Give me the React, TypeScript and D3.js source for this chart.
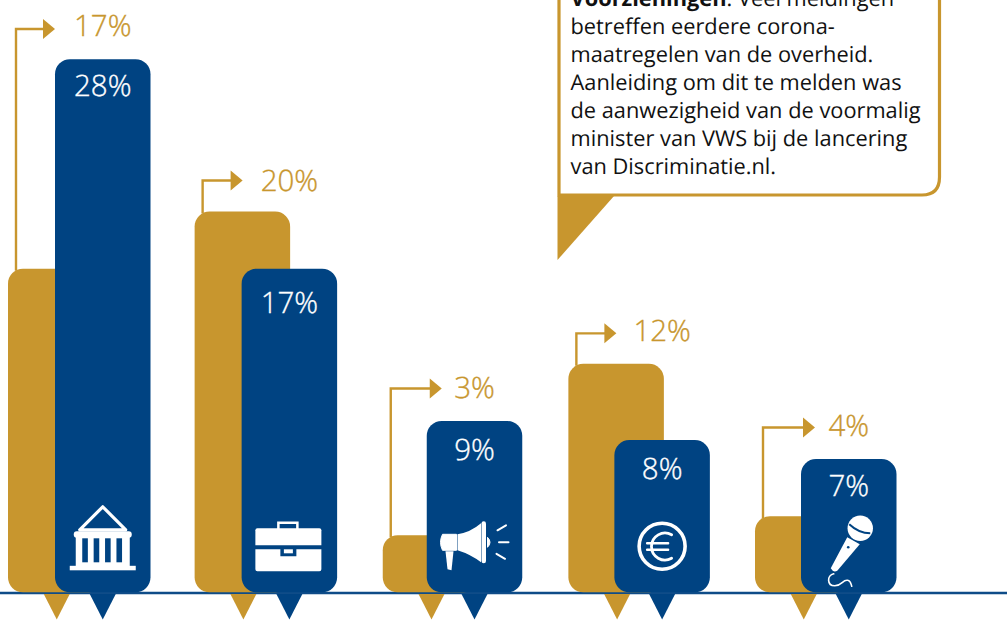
import React, { useEffect, useRef } from 'react';
import * as d3 from 'd3';

const categories = ['overheid', 'arbeid', 'media', 'financien', 'cultuur'];
const goldValues = [17, 20, 3, 12, 4];
const blueValues = [28, 17, 9, 8, 7];
const noteLines = [
  'betreffen eerdere corona-',
  'maatregelen van de overheid.',
  'Aanleiding om dit te melden was',
  'de aanwezigheid van de voormalig',
  'minister van VWS bij de lancering',
  'van Discriminatie.nl.',
];

const GOLD = '#c8962e';
const BLUE = '#004382';
const FONT = '"Open Sans", sans-serif';

// icons are drawn around (0,0) = bar centre on the baseline
function drawIcon(g, name) {
  const white = (sel) => sel.attr('fill', '#fff');
  const line = (sel, w) =>
    sel
      .attr('fill', 'none')
      .attr('stroke', '#fff')
      .attr('stroke-width', w)
      .attr('stroke-linecap', 'round');

  if (name === 'overheid') {
    g.append('path')
      .attr('d', 'M0,-85.5 L-23,-62.5 L23,-62.5 Z')
      .attr('fill', 'none')
      .attr('stroke', '#fff')
      .attr('stroke-width', 3.2)
      .attr('stroke-linejoin', 'round');
    white(g.append('rect')).attr('x', -29).attr('y', -61).attr('width', 58).attr('height', 6.5).attr('rx', 3);
    white(g.append('rect')).attr('x', -27).attr('y', -56).attr('width', 54).attr('height', 30);
    d3.range(4).forEach((i) => {
      g.append('rect')
        .attr('x', -20.5 + i * 11.4)
        .attr('y', -54)
        .attr('width', 5.6)
        .attr('height', 24)
        .attr('fill', BLUE);
    });
    white(g.append('rect')).attr('x', -33).attr('y', -26.5).attr('width', 66).attr('height', 4.5);
  }

  if (name === 'arbeid') {
    g.append('path')
      .attr('d', 'M-11,-62 V-69.5 H8 V-62')
      .attr('fill', 'none')
      .attr('stroke', '#fff')
      .attr('stroke-width', 2.5);
    white(g.append('path')).attr(
      'd',
      'M-32,-64 Q-34,-64 -34,-62 V-47 H32 V-62 Q32,-64 30,-64 Z'
    );
    white(g.append('path')).attr(
      'd',
      'M-34,-43 H-9 V-36 H7 V-43 H32 V-23 Q32,-21 30,-21 H-32 Q-34,-21 -34,-23 Z'
    );
    white(g.append('rect')).attr('x', -5.5).attr('y', -43).attr('width', 9).attr('height', 4);
  }

  if (name === 'media') {
    white(g.append('path')).attr('d', 'M-18,-58 H-32 Q-36,-50 -32,-42 H-18 Z').attr('stroke', '#fff').attr('stroke-linejoin', 'round');
    white(g.append('path')).attr('d', 'M-17,-58 Q-4,-60 6.5,-69 V-30 Q-4,-38 -17,-42 Z');
    white(g.append('rect')).attr('x', 7).attr('y', -71).attr('width', 4.5).attr('height', 42).attr('rx', 2.2);
    white(g.append('path')).attr('d', 'M13,-55 Q18,-50 13,-45 Z').attr('stroke', '#fff');
    white(g.append('path')).attr('d', 'M-29,-41 H-21 L-23,-22 L-27,-23 Z');
    [
      [23, -62, 31.5, -67],
      [24.5, -50, 34, -50],
      [22, -38.5, 30.5, -33.5],
    ].forEach(([x1, y1, x2, y2]) => {
      line(g.append('line'), 2).attr('x1', x1).attr('y1', y1).attr('x2', x2).attr('y2', y2);
    });
  }

  if (name === 'financien') {
    line(g.append('circle'), 3.6).attr('cy', -46).attr('r', 23);
    line(g.append('path'), 2.8).attr('d', 'M9.5,-57.5 A13.5,13.5 0 1 0 9.5,-34');
    line(g.append('path'), 2.4).attr('d', 'M-15,-49 H6 M-15,-42.5 H6');
  }

  if (name === 'cultuur') {
    white(g.append('circle')).attr('cx', 11.5).attr('cy', -64).attr('r', 12.7);
    g.append('path')
      .attr('d', 'M0.5,-68 Q10,-59 21.5,-59')
      .attr('fill', 'none')
      .attr('stroke', BLUE)
      .attr('stroke-width', 2);
    white(g.append('path')).attr('d', 'M-1.5,-55 L11,-48 L-11.5,-21.5 Q-14,-20 -16,-21.5 L-18,-24 Z');
    g.append('circle').attr('cx', -0.5).attr('cy', -45).attr('r', 1.3).attr('fill', BLUE);
    line(g.append('path'), 1.6).attr(
      'd',
      'M-15,-18.5 C-22,-17 -22,-6.5 -14,-6.5 C-7,-6.5 -6,-13 -1,-12 C2,-11.5 2,-9 3,-6'
    );
  }
}

function App() {
  const ref = useRef();

  useEffect(() => {
    const width = 1007;
    const barWidth = 95.5;
    const radius = 15;
    const baseline = 592.3;

    const svg = d3.select(ref.current);
    svg.selectAll('*').remove();

    const x = d3.scalePoint().domain(categories).range([31.5, 778]);
    const y = d3.scaleLinear().domain([0, 28]).range([baseline, 59.2]);

    // how far gold and blue sit apart, leader rise and length, where the labels sit
    const barGap = [47, 47, 44, 46, 46];
    const arrowRise = [30.2, 31, 32.5, 30.5, 31.5];
    const arrowLength = [39, 40, 51, 40, 52];
    const goldLabelDrop = [6.5, 10.5, 9.5, 7.5, 8.5];
    const blueLabelDrop = [37, 44, 39, 39, 37];

    const goldX = (i) => x(categories[i]) - barGap[i] / 2;
    const blueX = (i) => x(categories[i]) + barGap[i] / 2;

    // callout top right, runs off the top of the page
    svg
      .append('path')
      .attr('d', 'M557.5,196 H614 L557.5,260 Z')
      .attr('fill', GOLD);
    svg
      .append('path')
      .attr('d', 'M559,-40 V195 H922 Q939.5,195 939.5,177 V-40 Z')
      .attr('fill', '#fff')
      .attr('stroke', GOLD)
      .attr('stroke-width', 3.2);

    const note = svg
      .append('g')
      .attr('font-family', FONT)
      .attr('font-size', 21.8)
      .attr('text-rendering', 'geometricPrecision')
      .attr('fill', '#111');
    const first = note.append('text').attr('x', 570.5).attr('y', 6);
    first.append('tspan').attr('font-weight', 700).text('Voorzieningen');
    first.append('tspan').text(': Veel meldingen');
    note
      .selectAll('text.line')
      .data(noteLines)
      .enter()
      .append('text')
      .attr('class', 'line')
      .attr('x', 570.5)
      .attr('y', (d, i) => 34 + i * 28)
      .text((d) => d);

    // baseline
    svg
      .append('line')
      .attr('x1', 0)
      .attr('x2', width)
      .attr('y1', 593)
      .attr('y2', 593)
      .attr('stroke', '#0f4c88')
      .attr('stroke-width', 2.6);

    const tip = (cx) => `M${cx - 13},594 H${cx + 13} L${cx},619.5 Z`;

    const valueLabel = (px, py, color, label) =>
      svg
        .append('text')
        .attr('x', px)
        .attr('y', py)
        .attr('text-anchor', 'middle')
        .attr('font-family', FONT)
        .attr('font-size', 29.5)
        .attr('font-weight', 300)
        .attr('text-rendering', 'geometricPrecision')
        .attr('fill', color)
        .attr('stroke', color)
        .attr('stroke-width', 0.35) // light weight alone is a bit too thin
        .text(label);

    categories.forEach((name, i) => {
      const gx = goldX(i);
      const bx = blueX(i);
      const goldTop = y(goldValues[i]);
      const blueTop = y(blueValues[i]);
      const arrowY = Math.min(goldTop, blueTop) - arrowRise[i];
      const stemX = gx + 8;
      const blueMid = bx + barWidth / 2;

      // leader arrow from gold bar to its label
      svg
        .append('path')
        .attr('d', `M${stemX},${goldTop + 2} V${arrowY} H${stemX + arrowLength[i] - 8}`)
        .attr('fill', 'none')
        .attr('stroke', GOLD)
        .attr('stroke-width', 2.4);
      svg
        .append('path')
        .attr(
          'd',
          `M${stemX + arrowLength[i] - 12},${arrowY - 10} L${stemX + arrowLength[i]},${arrowY} L${stemX + arrowLength[i] - 12},${arrowY + 10} Z`
        )
        .attr('fill', GOLD);
      valueLabel(blueMid, arrowY + goldLabelDrop[i], GOLD, `${goldValues[i]}%`);

      svg.append('path').attr('d', tip(gx + barWidth / 2 + 1)).attr('fill', GOLD);
      svg.append('path').attr('d', tip(blueMid)).attr('fill', BLUE);

      svg
        .append('rect')
        .attr('x', gx)
        .attr('y', goldTop)
        .attr('width', barWidth)
        .attr('height', y(0) - goldTop)
        .attr('rx', radius)
        .attr('fill', GOLD);
      svg
        .append('rect')
        .attr('x', bx)
        .attr('y', blueTop)
        .attr('width', barWidth)
        .attr('height', y(0) - blueTop)
        .attr('rx', radius)
        .attr('fill', BLUE);

      valueLabel(blueMid, blueTop + blueLabelDrop[i], '#fff', `${blueValues[i]}%`);

      drawIcon(svg.append('g').attr('transform', `translate(${blueMid},${baseline})`), name);
    });
  }, []);

  return (
    <svg
      ref={ref}
      width={1007}
      height={620}
      style={{ position: 'fixed', left: 0, top: 0, display: 'block', background: '#fff' }}
    ></svg>
  );
}

export default App;
